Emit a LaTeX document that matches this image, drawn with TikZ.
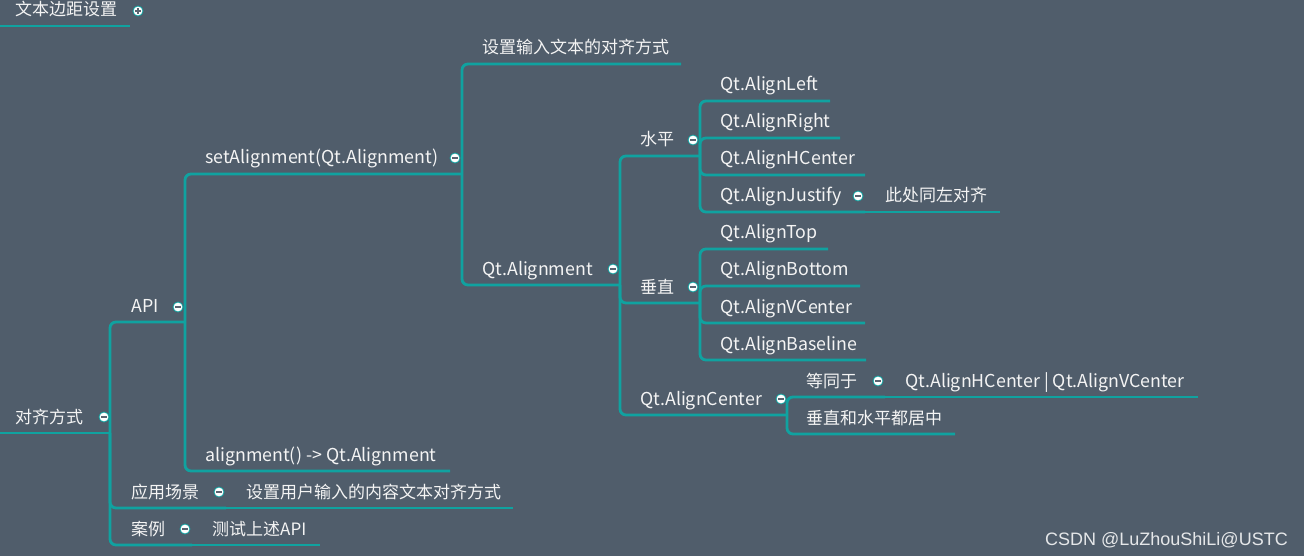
\documentclass[tikz,border=0pt]{standalone}
\usepackage{fontspec}
\setmainfont{Noto Sans CJK SC}
\setsansfont{Liberation Sans}
\usetikzlibrary{calc}
\definecolor{bg}{HTML}{505D6B}
\definecolor{branchcol}{HTML}{10A2A0}
\definecolor{txt}{HTML}{F4F4F4}
\definecolor{foldsign}{HTML}{5A6470}

\tikzset{
    topic/.style={anchor=base west, inner sep=0pt, text=txt},
    branch/.style={draw=branchcol, line width=2.8pt, rounded corners=6pt},
    fold/.style={circle, fill=white, draw=branchcol, line width=0.8pt, inner sep=0pt, minimum size=10pt},
    foldminus/.style={fold, path picture={
        \draw[foldsign, line width=1.4pt] ([xshift=-2.6pt]path picture bounding box.center) -- ([xshift=2.6pt]path picture bounding box.center);}},
    foldplus/.style={fold, path picture={
        \draw[foldsign, line width=1.4pt] ([xshift=-2.6pt]path picture bounding box.center) -- ([xshift=2.6pt]path picture bounding box.center);
        \draw[foldsign, line width=1.4pt] ([yshift=-2.6pt]path picture bounding box.center) -- ([yshift=2.6pt]path picture bounding box.center);}},
}

\begin{document}
\begin{tikzpicture}[x=1pt,y=-1pt]
    \useasboundingbox[fill=bg] (0,0) rectangle (1304,556);

    % collapsed topic
    \coordinate (margin-s) at (0,26);
    \coordinate (margin-e) at (130,26);
    \node[topic, font=\fontsize{17}{20}\selectfont] (margin) at (15,16) {文本边距设置};
    \draw[branch] (margin-s) -- (margin-e);

    % root
    \coordinate (root-s) at (0,433);
    \coordinate (root-e) at (110,433);
    \node[topic, font=\fontsize{17}{20}\selectfont] (root) at (15,423) {对齐方式};
    \draw[branch] (root-s) -- (root-e);

    % branches: name / text / text x / underline y / end x / parent / font size
    \foreach \n/\t/\x/\y/\e/\p/\s in {
        api/API/131/322/185/root/17.8,
        set/setAlignment(Qt.Alignment)/205/174/462/api/17.8,
        input/设置输入文本的对齐方式/482/64/681/set/17,
        qta/Qt.Alignment/482/285/620/set/17.8,
        horz/水平/640/156/700/qta/17,
        left/Qt.AlignLeft/720/101/830/horz/17.8,
        right/Qt.AlignRight/720/138/840/horz/17.8,
        hcen/Qt.AlignHCenter/720/175/865/horz/17.8,
        just/Qt.AlignJustify/720/212/865/horz/17.8,
        vert/垂直/640/303/700/qta/17,
        top/Qt.AlignTop/720/249/828/vert/17.8,
        bot/Qt.AlignBottom/720/286/860/vert/17.8,
        vcen/Qt.AlignVCenter/720/323/865/vert/17.8,
        base/Qt.AlignBaseline/720/360/866/vert/17.8,
        cen/Qt.AlignCenter/640/415/787/qta/17.8,
        equal/等同于/806/397/885/cen/17,
        mid/垂直和水平都居中/806/434/955/cen/17,
        get/alignment() -> Qt.Alignment/205/471/450/api/17.8,
        scene/应用场景/131/508/226/root/17,
        case/案例/131/545/192/root/17}
    {
        \coordinate (\n-e) at (\e,\y);
        \node[topic, font=\fontsize{\s}{20}\selectfont] (\n) at (\x,\y-10) {\t};
        \draw[branch] (\p-e) |- (\n-e);
    }

    % leaves on the same line as their parent
    \foreach \n/\t/\x/\y/\e/\p/\s in {
        same/此处同左对齐/885/212/1000/just/17,
        both/Qt.AlignHCenter | Qt.AlignVCenter/905/397/1198/equal/17.8,
        usage/设置用户输入的内容文本对齐方式/246/508/513/scene/17,
        test/测试上述API/212/545/320/case/17}
    {
        \coordinate (\n-e) at (\e,\y);
        \node[topic, font=\fontsize{\s}{20}\selectfont] (\n) at (\x,\y-10) {\t};
        \draw[branch] (\p-e) -- (\n-e);
    }

    % fold buttons
    \node[foldplus] (margin-b) at (138,11) {};
    \foreach \n/\x/\y in {root/104/417, api/178/307, set/455/158, qta/613/269,
        horz/693/140, just/858/196, vert/693/287, cen/781/399,
        equal/878/381, scene/219/492, case/185/529}
    {
        \node[foldminus] (\n-b) at (\x,\y) {};
    }

    % watermark
    \node[anchor=base east, inner sep=0pt, text=white!85!bg, font=\sffamily\fontsize{18}{20}\selectfont] (wmark) at (1288,545) {CSDN @LuZhouShiLi@USTC};
\end{tikzpicture}
\end{document}
